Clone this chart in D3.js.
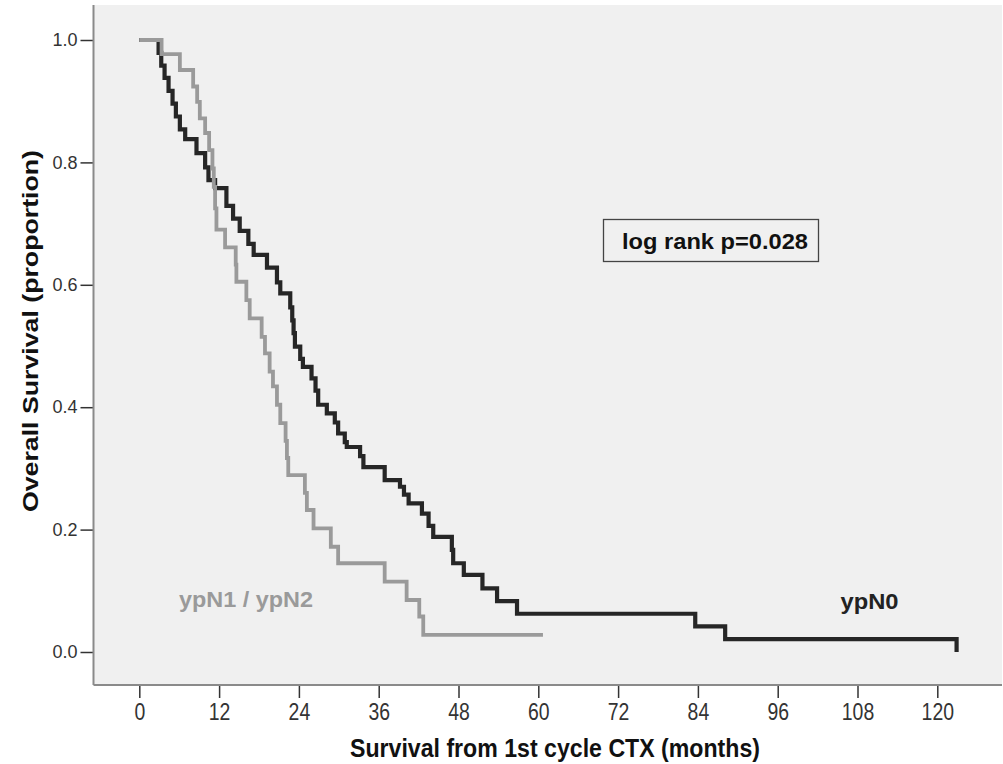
<!DOCTYPE html>
<html>
<head>
<meta charset="utf-8">
<script src="https://cdn.jsdelivr.net/npm/d3@7"></script>
<style>
  html, body { margin: 0; padding: 0; background: #ffffff; }
  svg { display: block; }
  text { font-family: "Liberation Sans", Arial, sans-serif; }
</style>
</head>
<body>
<svg id="chart" width="1003" height="764"></svg>
<script>
// Kaplan–Meier estimates: event times (months) and survival after each event
const ypN0Times = [0, 2.9, 3.3, 3.8, 4.4, 5.0, 5.5, 6.1, 6.9, 8.6, 9.9, 10.4, 11.4, 13.1, 14.1, 15.1,
  16.4, 17.2, 19.2, 20.7, 21.2, 22.7, 23.0, 23.2, 23.4, 24.2, 24.6, 25.9, 26.5, 26.9, 28.2, 29.4,
  29.9, 30.9, 31.2, 33.2, 33.7, 36.9, 39.2, 39.8, 40.5, 42.5, 43.5, 44.2, 47.0, 47.2, 48.8, 51.6,
  53.8, 56.8, 83.6, 88.1, 122.9];
const ypN0Surv = [1.0, 0.979, 0.958, 0.938, 0.917, 0.896, 0.875, 0.854, 0.838, 0.815, 0.792, 0.771, 0.758,
  0.729, 0.708, 0.688, 0.667, 0.649, 0.628, 0.604, 0.586, 0.563, 0.542, 0.521, 0.499, 0.479, 0.466,
  0.447, 0.427, 0.404, 0.39, 0.375, 0.357, 0.343, 0.335, 0.32, 0.302, 0.281, 0.27, 0.257, 0.243,
  0.226, 0.206, 0.188, 0.167, 0.145, 0.126, 0.104, 0.083, 0.0625, 0.042, 0.021, 0.0];

const ypN12Times = [0, 3.35, 6.1, 8.1, 8.7, 9.1, 9.9, 10.5, 11.0, 11.2, 11.4, 11.6, 12.9, 14.5, 14.6,
  16.1, 16.6, 18.4, 18.9, 19.6, 20.1, 20.7, 21.2, 22.0, 22.2, 22.4, 24.9, 25.2, 26.2, 28.8, 29.9,
  36.9, 40.2, 42.1, 42.7];
const ypN12Surv = [1.0, 0.977, 0.951, 0.924, 0.899, 0.872, 0.848, 0.820, 0.79, 0.76, 0.725, 0.69, 0.661,
  0.633, 0.605, 0.575, 0.545, 0.515, 0.488, 0.458, 0.434, 0.404, 0.374, 0.345, 0.317, 0.289, 0.26,
  0.232, 0.202, 0.172, 0.145, 0.115, 0.085, 0.058, 0.028];
const ypN12LastFollowUp = 60.7;

const xTicks = [0, 12, 24, 36, 48, 60, 72, 84, 96, 108, 120];
const yTicks = [0.0, 0.2, 0.4, 0.6, 0.8, 1.0];

const svg = d3.select("#chart");

const frame = { left: 93.5, right: 1002, top: 5, bottom: 685 };
const x = d3.scaleLinear().domain([0, 120]).range([139.3, 937.3]);
const y = d3.scaleLinear().domain([0, 1]).range([652, 40]);

// plot panel
svg.append("rect")
  .attr("x", frame.left).attr("y", frame.top)
  .attr("width", frame.right - frame.left).attr("height", frame.bottom - frame.top)
  .attr("fill", "#f0f0f0");

// y axis
const yAxis = svg.append("g")
  .attr("transform", `translate(${frame.left},0)`)
  .call(d3.axisLeft(y).tickValues(yTicks).tickFormat(d3.format(".1f")).tickSize(13).tickPadding(3));
yAxis.select(".domain").remove();
yAxis.selectAll(".tick line").attr("stroke", "#333").attr("stroke-width", 1.5);
yAxis.selectAll(".tick text")
  .attr("fill", "#333").style("font-size", "18px")
  .style("font-family", "\"Liberation Sans\", Arial, sans-serif");

// x axis
const xAxis = svg.append("g")
  .attr("transform", `translate(0,${frame.bottom})`)
  .call(d3.axisBottom(x).tickValues(xTicks).tickFormat(d3.format("d")).tickSize(13).tickPadding(6));
xAxis.select(".domain").remove();
xAxis.selectAll(".tick line").attr("stroke", "#333").attr("stroke-width", 1.5);
xAxis.selectAll(".tick text")
  .attr("fill", "#333").style("font-size", "23px")
  .style("font-family", "\"Liberation Sans Narrow\", \"Liberation Sans\", Arial, sans-serif")
  .attr("textLength", d => String(d).length * 10.8)
  .attr("lengthAdjust", "spacingAndGlyphs");

// panel frame lines (left and bottom)
svg.append("line")
  .attr("x1", frame.left).attr("x2", frame.left)
  .attr("y1", frame.top).attr("y2", frame.bottom)
  .attr("stroke", "#8a8a8a").attr("stroke-width", 2);
svg.append("line")
  .attr("x1", frame.left).attr("x2", frame.right)
  .attr("y1", frame.bottom).attr("y2", frame.bottom)
  .attr("stroke", "#8a8a8a").attr("stroke-width", 2);

// survival step curves
const step = d3.line().x(d => x(d[0])).y(d => y(d[1])).curve(d3.curveStepAfter);

const ypN0Pts = ypN0Times.map((t, i) => [t, ypN0Surv[i]]);
const ypN12Pts = ypN12Times.map((t, i) => [t, ypN12Surv[i]]);
ypN12Pts.push([ypN12LastFollowUp, ypN12Surv[ypN12Surv.length - 1]]);

svg.append("path")
  .attr("d", step(ypN0Pts))
  .attr("fill", "none").attr("stroke", "#262626").attr("stroke-width", 4.2)
  .attr("stroke-linejoin", "miter");

svg.append("path")
  .attr("d", step(ypN12Pts))
  .attr("fill", "none").attr("stroke", "#9a9a9a").attr("stroke-width", 3.8)
  .attr("stroke-linejoin", "miter");

// group labels
svg.append("text")
  .attr("x", 246).attr("y", 607).attr("text-anchor", "middle")
  .attr("fill", "#9a9a9a").style("font-size", "22px").style("font-weight", "bold")
  .attr("textLength", 134).attr("lengthAdjust", "spacingAndGlyphs")
  .text("ypN1 / ypN2");
svg.append("text")
  .attr("x", 869.5).attr("y", 609).attr("text-anchor", "middle")
  .attr("fill", "#222").style("font-size", "22px").style("font-weight", "bold")
  .attr("textLength", 58).attr("lengthAdjust", "spacingAndGlyphs")
  .text("ypN0");

// log-rank annotation
svg.append("rect")
  .attr("x", 603.5).attr("y", 219.5).attr("width", 215).attr("height", 42)
  .attr("fill", "#f0f0f0").attr("stroke", "#444").attr("stroke-width", 1.3);
svg.append("text")
  .attr("x", 715).attr("y", 249).attr("text-anchor", "middle")
  .attr("fill", "#111").style("font-size", "22px").style("font-weight", "bold")
  .attr("textLength", 186).attr("lengthAdjust", "spacingAndGlyphs")
  .text("log rank p=0.028");

// axis titles
svg.append("text")
  .attr("transform", "translate(38,331) rotate(-90)")
  .attr("text-anchor", "middle")
  .attr("fill", "#111").style("font-size", "22px").style("font-weight", "bold")
  .attr("textLength", 362).attr("lengthAdjust", "spacingAndGlyphs")
  .text("Overall Survival (proportion)");
svg.append("text")
  .attr("x", 555).attr("y", 757).attr("text-anchor", "middle")
  .attr("fill", "#111").style("font-size", "25px").style("font-weight", "bold")
  .style("font-family", "\"Liberation Sans Narrow\", \"Liberation Sans\", Arial, sans-serif")
  .attr("textLength", 410).attr("lengthAdjust", "spacingAndGlyphs")
  .text("Survival from 1st cycle CTX (months)");
</script>
</body>
</html>
